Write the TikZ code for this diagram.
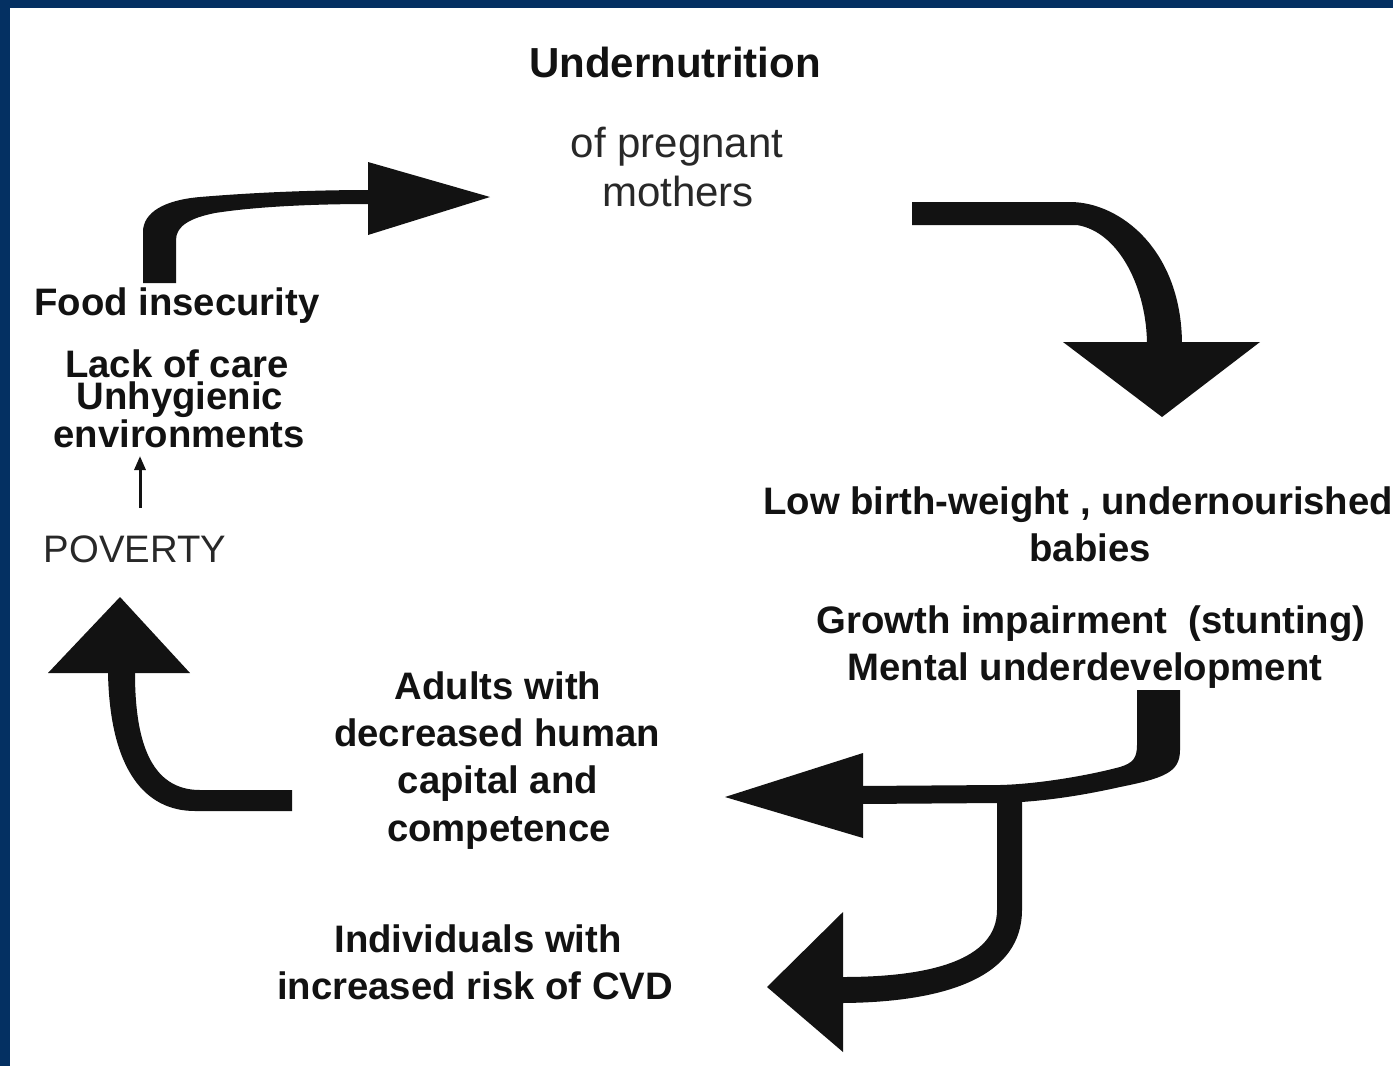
\documentclass[tikz,border=0pt]{standalone}
\usepackage{fontspec}
\setmainfont{Liberation Sans}
\usetikzlibrary{arrows.meta}
\definecolor{frameblue}{RGB}{4,48,98}
\definecolor{ink}{RGB}{18,18,18}
\definecolor{inkgray}{RGB}{40,40,40}
\begin{document}
\begin{tikzpicture}[x=1pt,y=-1pt,
  boldtext/.style={font=\fontsize{38.3}{46}\selectfont\bfseries, text=ink, inner sep=0pt, anchor=base},
  plaintext/.style={font=\fontsize{38.3}{46}\selectfont, text=inkgray, inner sep=0pt, anchor=base},
  titletext/.style={font=\fontsize{42}{48}\selectfont\bfseries, text=ink, inner sep=0pt, anchor=base},
  subtitletext/.style={font=\fontsize{42}{48}\selectfont, text=inkgray, inner sep=0pt, anchor=base},
  bigshape/.style={fill=ink, draw=none},
  thinarrow/.style={draw=ink, line width=3pt, -{Triangle[length=14pt,width=11pt]}}]
\useasboundingbox (0,0) rectangle (1393,1066);
\fill[white] (0,0) rectangle (1393,1066);
\fill[frameblue] (0,0) rectangle (1393,8);
\fill[frameblue] (0,0) rectangle (10,1066);

% texts
\node[titletext] (und) at (675,77) {Undernutrition};
\node[subtitletext] (preg1) at (677,157) {of pregnant};
\node[subtitletext] (preg2) at (678,206) {mothers};

\node[boldtext] (food) at (177,315) {Food insecurity};
\node[boldtext] (lack) at (177,377) {Lack of care};
\node[boldtext] (unhyg) at (180,409) {Unhygienic};
\node[boldtext] (env) at (179,447) {environments};
\node[plaintext] (pov) at (135,562) {POVERTY};

\node[boldtext, anchor=base west] (low) at (763,514) {Low birth-weight , undernourished};
\node[boldtext] (bab) at (1090,561) {babies};
\node[boldtext] (grow) at (1091,633) {Growth impairment\ \ (stunting)};
\node[boldtext] (ment) at (1085,680) {Mental underdevelopment};

\node[boldtext] (ad1) at (498,699) {Adults with};
\node[boldtext] (ad2) at (497,746) {decreased human};
\node[boldtext] (ad3) at (498,793) {capital and};
\node[boldtext] (ad4) at (499,841) {competence};

\node[boldtext] (ind1) at (478,952) {Individuals with};
\node[boldtext] (ind2) at (475,999) {increased risk of CVD};

% small arrow poverty -> environments
\coordinate (povtop) at (140,508);
\coordinate (envbot) at (140,456);
\draw[thinarrow] (povtop) -- (envbot);

% arrow 1: food insecurity -> undernutrition
\fill[bigshape] (143,283) -- (143,232) .. controls (143,212) and (165,200) .. (200,197)
  .. controls (260,192) and (320,190) .. (370,190) -- (370,204)
  .. controls (320,204) and (260,206) .. (215,213)
  .. controls (190,218) and (176,226) .. (176,240) -- (176,283) -- cycle;
\fill[bigshape] (368,162) -- (490,197) -- (368,235) -- cycle;

% arrow 2: mothers -> babies
\fill[bigshape] (912,202) -- (1070,202) .. controls (1120,202) and (1182,250) .. (1182,345)
  -- (1147,345) .. controls (1147,290) and (1120,232) .. (1077,225) -- (912,225) -- cycle;
\fill[bigshape] (1063,342) -- (1260,342) -- (1162,417) -- cycle;

% arrow 3: development -> adults
\fill[bigshape] (1137,690) -- (1180,690) -- (1180,750)
  .. controls (1180,772) and (1165,778) .. (1120,787)
  .. controls (1080,796) and (1040,802) .. (1000,803) -- (860,804) -- (860,786)
  -- (1000,785) .. controls (1040,784) and (1090,775) .. (1120,767)
  .. controls (1133,763) and (1137,758) .. (1137,745) -- cycle;
\fill[bigshape] (863,753) -- (725,797) -- (863,838) -- cycle;

% branch: -> individuals
\fill[bigshape] (997,795) -- (1022,795) -- (1022,910)
  .. controls (1022,975) and (950,1002) .. (843,1003) -- (843,977)
  .. controls (930,977) and (997,960) .. (997,910) -- cycle;
\fill[bigshape] (843,912) -- (767,987) -- (843,1052) -- cycle;

% arrow 5: adults -> poverty
\fill[bigshape] (108,673) -- (135,673) .. controls (135,740) and (150,790) .. (200,790)
  -- (292,790) -- (292,811) -- (195,811) .. controls (145,811) and (110,770) .. (108,673) -- cycle;
\fill[bigshape] (48,673) -- (120,597) -- (190,673) -- cycle;
\end{tikzpicture}
\end{document}
